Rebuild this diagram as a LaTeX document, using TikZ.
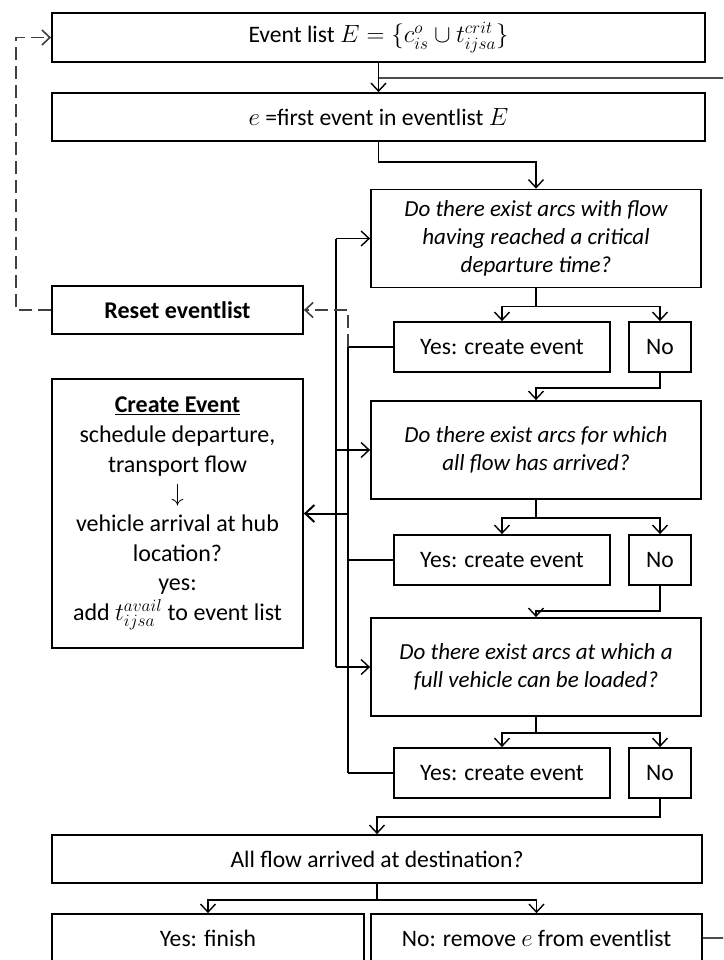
\documentclass[tikz,border=0pt]{standalone}
\usepackage{fontspec}
\setmainfont{Carlito}
\usetikzlibrary{arrows.meta}
\begin{document}
\begin{tikzpicture}[x=1pt,y=-1pt,
  box/.style={draw, line width=1.8pt, inner sep=0pt, align=center,
    font=\fontsize{23.6}{28.5}\selectfont},
  wide/.style={box, minimum width=653pt, minimum height=48pt},
  question/.style={box, minimum width=330pt, minimum height=98pt, font=\fontsize{23}{28}\selectfont\itshape},
  yesbox/.style={box, minimum width=216pt, minimum height=50pt},
  nobox/.style={box, minimum width=62pt, minimum height=50pt},
  sidebox/.style={box, minimum width=251pt, font=\fontsize{24}{29.7}\selectfont},
  link/.style={line width=1.4pt},
  tip/.tip={Straight Barb[length=8pt,width=15pt,line width=1.4pt]},
  flow/.style={link, -tip},
  dashline/.style={line width=1.6pt, black!75, dash pattern=on 13pt off 6pt},
  feed/.style={line width=2pt, black!70}
]
\useasboundingbox (0,0) rectangle (723,960);
\clip (0,0) rectangle (723,960);

% main column
\node[wide, minimum height=49pt] (evlist) at (378.5,37.5)
  {Event list $E=\{c^{o}_{is}\cup t^{crit}_{ijsa}\}$};
\node[wide] (efirst) at (378.5,117) {$e$ =first event in eventlist $E$};

\node[question] (q1) at (536,238.5)
  {Do there exist arcs with flow\\having reached a critical\\departure time?};
\node[yesbox] (yes1) at (502,347) {Yes: create event};
\node[nobox] (no1) at (660,347) {No};

\node[question] (q2) at (536,450)
  {Do there exist arcs for which\\all flow has arrived?};
\node[yesbox] (yes2) at (502,560) {Yes: create event};
\node[nobox] (no2) at (660,560) {No};

\node[question] (q3) at (536,667)
  {Do there exist arcs at which a\\full vehicle can be loaded?};
\node[yesbox] (yes3) at (502,773) {Yes: create event};
\node[nobox] (no3) at (660,773) {No};

\node[box, minimum width=650pt, minimum height=48pt] (allflow) at (377,859)
  {All flow arrived at destination?};
\node[box, minimum width=312pt, minimum height=48pt] (finish) at (208,938) {Yes: finish};
\node[box, minimum width=331pt, minimum height=48pt] (noremove) at (536.5,938)
  {No: remove $e$ from eventlist};

% side column
\node[sidebox, minimum height=48pt, font=\fontsize{24}{29.7}\selectfont\bfseries] (reset) at (177.5,310)
  {Reset eventlist};
\node[sidebox, minimum height=269pt] (create) at (177.5,513.5)
  {\underline{\textbf{Create Event}}\\schedule departure,\\transport flow\\$\downarrow$\\
   vehicle arrival at hub\\location?\\yes:\\add $t^{avail}_{ijsa}$ to event list};

% bus lines and loop coordinates
\coordinate (abus) at (336,0);
\coordinate (bbus) at (348,0);
\coordinate (lbus) at (16,0);
\coordinate (rtop) at (735,78);

% downward flow
\draw[flow] (evlist.south) -- (efirst.north);
\draw[flow] (efirst.south) -- ++(0,20) -| (q1.north);

\draw[flow] (q1.south) -- ++(0,18) -| (yes1.north);
\draw[flow] (q1.south) -- ++(0,18) -| (no1.north);
\draw[flow] (no1.south) -- ++(0,15) -| (q2.north);

\draw[flow] (q2.south) -- ++(0,18) -| (yes2.north);
\draw[flow] (q2.south) -- ++(0,18) -| (no2.north);
\draw[flow] (no2.south) -- ++(0,25) -| (q3.north);

\draw[flow] (q3.south) -- ++(0,16) -| (yes3.north);
\draw[flow] (q3.south) -- ++(0,16) -| (no3.north);
\draw[flow] (no3.south) -- ++(0,18) -| (allflow.north);

\draw[flow] (allflow.south) -- ++(0,16) -| (finish.north);
\draw[flow] (allflow.south) -- ++(0,16) -| (noremove.north);

% loop back to the next event
\draw[feed] (noremove.east) -| (rtop) -- (efirst.north |- rtop);

% bus feeding the questions
\draw[link] (abus |- q1.west) -- (abus |- q3.west);
\draw[flow] (abus |- q1.west) -- (q1.west);
\draw[flow] (abus |- q2.west) -- (q2.west);
\draw[flow] (abus |- q3.west) -- (q3.west);

% bus collecting the "yes" answers
\draw[link] (bbus |- yes1.west) -- (bbus |- yes3.west);
\draw[link] (yes1.west) -- (bbus |- yes1.west);
\draw[link] (yes2.west) -- (bbus |- yes2.west);
\draw[link] (yes3.west) -- (bbus |- yes3.west);
\draw[link, line width=2pt, -{Straight Barb[length=9pt,width=17pt,line width=2pt]}]
  (bbus |- create.east) -- (create.east);

% reset loop
\draw[dashline, -{Straight Barb[length=8pt,width=15pt,line width=1.6pt]}]
  (bbus |- yes1.west) -- (bbus |- reset.east) -- (reset.east);
\draw[dashline, -{Straight Barb[length=8pt,width=15pt,line width=1.6pt]}]
  (reset.west) -- (lbus |- reset.west) |- (evlist.west);
\end{tikzpicture}
\end{document}
